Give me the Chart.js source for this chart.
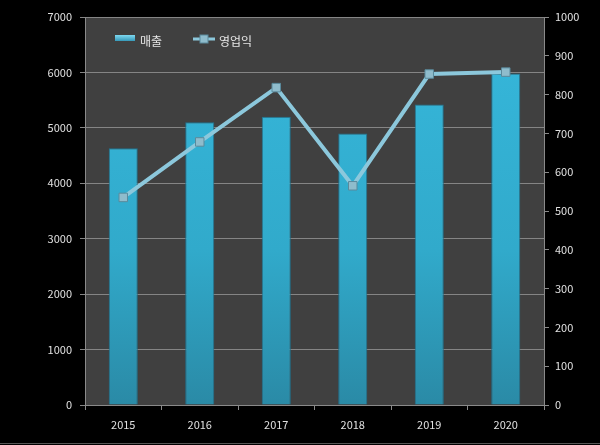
<!DOCTYPE html>
<html>
<head>
<meta charset="utf-8">
<script src="https://cdn.jsdelivr.net/npm/chart.js@4"></script>
<style>
  html, body { margin: 0; padding: 0; background: #000; }
  #wrap { width: 600px; height: 445px; }
</style>
</head>
<body>
<div id="wrap"><canvas id="chart" width="600" height="445"></canvas></div>
<script>
const years = ['2015', '2016', '2017', '2018', '2019', '2020'];
const sales = [4630, 5100, 5200, 4900, 5420, 5980];   // 매출 (left axis)
const profit = [535, 678, 818, 565, 853, 858];        // 영업익 (right axis)
const seriesNames = ['매출', '영업익'];

const font = "'Noto Sans CJK KR', 'DejaVu Sans', sans-serif";

// Plot background + custom legend placed inside the plot area
const plotDecor = {
    id: 'plotDecor',
    beforeDraw(chart) {
        const { ctx, chartArea: a } = chart;
        ctx.save();
        ctx.fillStyle = '#000';
        ctx.fillRect(0, 0, chart.width, chart.height);
        ctx.fillStyle = '#404040';
        ctx.fillRect(a.left, a.top, a.right - a.left, a.bottom - a.top);
        ctx.restore();
    },
    afterDraw(chart) {
        const ctx = chart.ctx;
        ctx.save();
        // bar swatch
        const g = ctx.createLinearGradient(0, 35, 0, 42);
        g.addColorStop(0, '#7fd8f0');
        g.addColorStop(1, '#2a8fb0');
        ctx.fillStyle = g;
        ctx.fillRect(115, 35, 20, 6);
        ctx.font = '12px ' + font;
        ctx.fillStyle = '#e6e6e6';
        ctx.textBaseline = 'middle';
        ctx.fillText(seriesNames[0], 140, 41);
        // line swatch
        ctx.strokeStyle = '#8cc8dc';
        ctx.lineWidth = 3;
        ctx.beginPath();
        ctx.moveTo(193, 39);
        ctx.lineTo(215, 39);
        ctx.stroke();
        ctx.fillStyle = '#8fbccc';
        ctx.strokeStyle = '#5a8a9c';
        ctx.lineWidth = 1;
        ctx.fillRect(200, 35, 8, 8);
        ctx.strokeRect(200, 35, 8, 8);
        ctx.fillStyle = '#e6e6e6';
        ctx.fillText(seriesNames[1], 219, 41);
        // thin frame line at the bottom of the picture
        ctx.strokeStyle = '#555';
        ctx.beginPath();
        ctx.moveTo(0, 443.5);
        ctx.lineTo(600, 443.5);
        ctx.stroke();
        ctx.restore();
    }
};

function barFill(context) {
    const area = context.chart.chartArea;
    if (!area) return '#2fa8cb';
    const g = context.chart.ctx.createLinearGradient(0, area.top, 0, area.bottom);
    g.addColorStop(0, '#36b8dc');
    g.addColorStop(0.6, '#31aacb');
    g.addColorStop(1, '#2a8aa6');
    return g;
}

const plain = v => v;

new Chart(document.getElementById('chart'), {
    type: 'bar',
    data: {
        labels: years,
        datasets: [
            {
                type: 'line',
                label: seriesNames[1],
                data: profit,
                yAxisID: 'y1',
                borderColor: '#8cc8dc',
                borderWidth: 4,
                pointStyle: 'rect',
                pointRadius: 6,
                pointBackgroundColor: '#8fbccc',
                pointBorderColor: '#5a8a9c',
                pointBorderWidth: 1,
                tension: 0,
                order: 0
            },
            {
                label: seriesNames[0],
                data: sales,
                yAxisID: 'y',
                backgroundColor: barFill,
                borderColor: '#1f7390',
                borderWidth: 1,
                categoryPercentage: 0.76,
                barPercentage: 0.5,
                order: 1
            }
        ]
    },
    options: {
        responsive: false,
        animation: false,
        layout: { padding: { top: 17, left: 0, right: 0, bottom: 0 } },
        plugins: {
            legend: { display: false },
            tooltip: { enabled: false }
        },
        scales: {
            x: {
                offset: true,
                grid: { offset: true, drawOnChartArea: false, color: '#8a8a8a', tickLength: 5 },
                border: { color: '#8a8a8a' },
                ticks: { color: '#e0e0e0', font: { family: font, size: 11 }, padding: 8 },
                afterFit(s) { s.height = 40; }
            },
            y: {
                position: 'left',
                min: 0, max: 7000,
                ticks: { stepSize: 1000, callback: plain, color: '#e0e0e0', font: { family: font, size: 11 }, padding: 8 },
                grid: { color: '#858585', tickLength: 5, drawTicks: true },
                border: { color: '#8a8a8a' },
                afterFit(s) { s.width = 85; }
            },
            y1: {
                position: 'right',
                min: 0, max: 1000,
                ticks: { stepSize: 100, callback: plain, color: '#e0e0e0', font: { family: font, size: 11 }, padding: 6 },
                grid: { drawOnChartArea: false, color: '#8a8a8a', tickLength: 5 },
                border: { color: '#8a8a8a' },
                afterFit(s) { s.width = 56; }
            }
        }
    },
    plugins: [plotDecor]
});
</script>
</body>
</html>
